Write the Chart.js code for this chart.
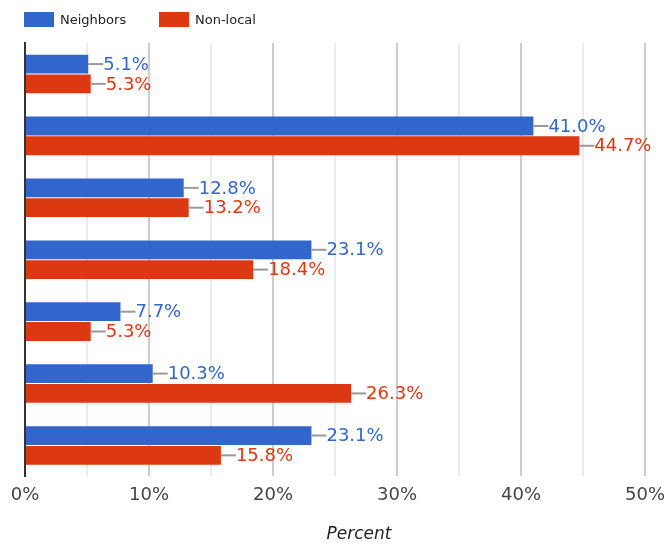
<!DOCTYPE html>
<html><head><meta charset="utf-8">
<script src="https://cdn.jsdelivr.net/npm/chart.js@4"></script>
<style>
html,body{margin:0;padding:0;background:#fff;}
#wrap{position:relative;width:664px;height:546px;}
#legend{position:absolute;left:0;top:0;font:13px "DejaVu Sans",sans-serif;color:#222;}
.item{position:absolute;top:11px;white-space:nowrap;}
.box{display:inline-block;width:30px;height:15px;vertical-align:middle;margin-right:6px;}
.item span{vertical-align:middle;}
</style></head>
<body>
<div id="wrap">
<canvas id="c" width="664" height="546"></canvas>
<div id="legend"></div>
</div>
<script>
const categories = ['Group 1','Group 2','Group 3','Group 4','Group 5','Group 6','Group 7'];
const seriesNames = ['Neighbors','Non-local'];
const neighbors = [5.1, 41.0, 12.8, 23.1, 7.7, 10.3, 23.1];
const nonLocal = [5.3, 44.7, 13.2, 18.4, 5.3, 26.3, 15.8];
const colors = ['#3366cc', '#dc3912'];
const tickValues = [0, 10, 20, 30, 40, 50];
const axisTitle = 'Percent';

// HTML legend
const lg = document.getElementById('legend');
const legendX = [24, 159];
seriesNames.forEach((n, i) => {
  const d = document.createElement('div');
  d.className = 'item';
  d.style.left = legendX[i] + 'px';
  d.innerHTML = '<span class="box" style="background:' + colors[i] + '"></span><span>' + n + '</span>';
  lg.appendChild(d);
});

const labelPlugin = {
  id: 'barLabels',
  afterDatasetsDraw(chart) {
    const ctx = chart.ctx;
    ctx.save();
    chart.data.datasets.forEach((ds, di) => {
      const meta = chart.getDatasetMeta(di);
      meta.data.forEach((bar, i) => {
        const x = bar.x, y = bar.y;
        ctx.strokeStyle = '#999';
        ctx.lineWidth = 2;
        ctx.beginPath();
        ctx.moveTo(x, y);
        ctx.lineTo(x + 15, y);
        ctx.stroke();
        ctx.fillStyle = colors[di];
        ctx.font = '18px "DejaVu Sans"';
        ctx.textAlign = 'left';
        ctx.textBaseline = 'middle';
        ctx.fillText(ds.data[i].toFixed(1) + '%', x + 15, y + 1);
      });
    });
    ctx.restore();
  }
};

const titlePlugin = {
  id: 'axisTitle',
  afterDraw(chart) {
    const ctx = chart.ctx;
    ctx.save();
    ctx.font = 'italic 17px "DejaVu Sans"';
    ctx.fillStyle = '#222';
    ctx.textAlign = 'center';
    ctx.textBaseline = 'middle';
    ctx.fillText(axisTitle, 359, 535);
    ctx.restore();
  }
};

new Chart(document.getElementById('c'), {
  type: 'bar',
  data: {
    labels: categories,
    datasets: [
      { label: seriesNames[0], data: neighbors, backgroundColor: colors[0], categoryPercentage: 0.64, barPercentage: 0.95 },
      { label: seriesNames[1], data: nonLocal, backgroundColor: colors[1], categoryPercentage: 0.64, barPercentage: 0.95 }
    ]
  },
  options: {
    indexAxis: 'y',
    responsive: false,
    animation: false,
    devicePixelRatio: 1,
    layout: { padding: { left: 25, right: 19, top: 43, bottom: 32 } },
    plugins: { legend: { display: false }, tooltip: { enabled: false } },
    scales: {
      x: {
        min: 0, max: 50,
        afterBuildTicks(scale) {
          const t = [];
          for (let v = 0; v <= 50; v += 5) t.push({ value: v });
          scale.ticks = t;
        },
        afterFit(scale) { scale.paddingLeft = 0; scale.paddingRight = 0; },
        ticks: {
          autoSkip: false,
          maxRotation: 0,
          padding: 8,
          color: '#444',
          font: { family: 'DejaVu Sans', size: 18 },
          callback: (v) => tickValues.includes(v) ? v + '%' : ''
        },
        grid: {
          drawTicks: false,
          lineWidth: 2,
          color: (c) => (c.tick && c.tick.value % 10 === 0) ? '#cccccc' : '#ebebeb'
        },
        border: { display: false }
      },
      y: {
        ticks: { display: false },
        grid: { display: false, drawTicks: false },
        border: { display: true, color: '#333', width: 2 }
      }
    }
  },
  plugins: [labelPlugin, titlePlugin]
});
</script>
</body></html>
